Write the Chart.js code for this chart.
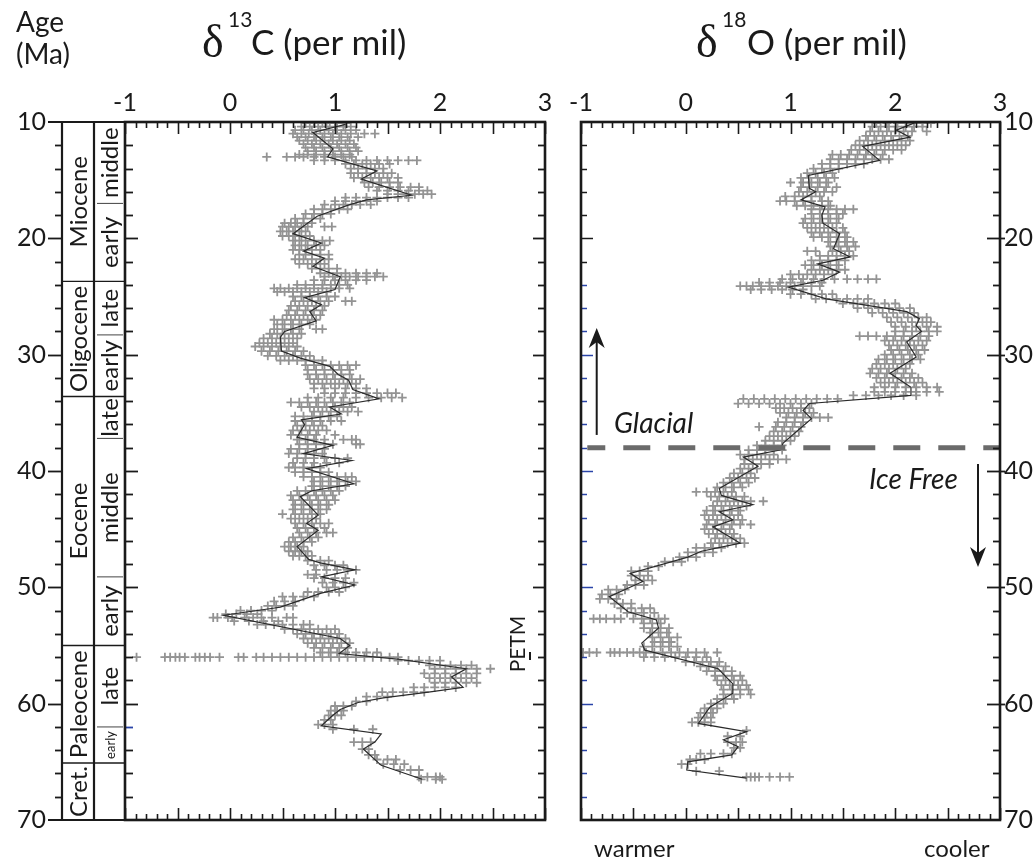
<!DOCTYPE html>
<html>
<head>
<meta charset="utf-8">
<script src="https://cdn.jsdelivr.net/npm/chart.js@4.4.1/dist/chart.umd.min.js"></script>
<style>
  body { margin: 0; background: #fff; width: 1036px; height: 859px; position: relative; overflow: hidden; font-family: Lato, sans-serif; color: #1a1a1a; }
  canvas { position: absolute; top: 0; }
  #cLeft { left: 0; }
  #cRight { left: 560px; }
  .lab { position: absolute; white-space: nowrap; line-height: 1; }
  .delta { font-family: 'Liberation Serif', serif; font-size: 46px; }
  .sup { font-size: 21px; }
  .ttl { font-size: 35px; }
  .ital { font-style: italic; font-size: 28px; }
</style>
</head>
<body>
<canvas id="cLeft" width="560" height="859"></canvas>
<canvas id="cRight" width="476" height="859"></canvas>

<div class="lab" style="left:16px;top:5px;font-size:28px;line-height:32px">Age<br>(Ma)</div>

<div class="lab delta" style="left:202px;top:19px">δ</div>
<div class="lab sup" style="left:228px;top:8px">13</div>
<div class="lab ttl" style="left:251px;top:24px">C (per mil)</div>

<div class="lab delta" style="left:696px;top:19px">δ</div>
<div class="lab sup" style="left:722px;top:8px">18</div>
<div class="lab ttl" style="left:747px;top:24px">O (per mil)</div>

<div class="lab ital" style="left:614px;top:408px">Glacial</div>
<div class="lab ital" style="left:869px;top:464px">Ice Free</div>
<div class="lab" style="left:594px;top:836px;font-size:24px">warmer</div>
<div class="lab" style="left:924px;top:836px;font-size:24px">cooler</div>

<script>
// ---- time scale (Ma) ----
const epochNames = ['Miocene', 'Oligocene', 'Eocene', 'Paleocene', 'Cret.'];
const epochBounds = [10, 23.7, 33.6, 55.0, 65.1, 70];
const subNames = ['middle', 'early', 'late', 'early', 'late', 'middle', 'early', 'late', 'early', ''];
const subBounds = [10, 17.0, 23.7, 28.3, 33.6, 37.2, 49.1, 55.0, 62.0, 65.1, 70];

const xTickLabels = [-1, 0, 1, 2, 3];
const ageTickLabels = [10, 20, 30, 40, 50, 60, 70];
const glacialAge = 38;
const petmAge = 55.9;

// ---- d13C smoothed curve ----
const c13LineAge = [10.2,10.9,12.3,13.0,14.2,14.9,16.3,16.7,17.1,18.1,19.6,20.4,21.1,21.7,22.4,23.3,24.4,25.1,25.7,26.3,27.1,28.0,28.5,29.7,30.3,31.0,31.7,32.2,33.0,33.8,34.5,35.1,35.6,36.0,37.1,37.8,38.5,39.1,39.8,41.1,41.7,42.2,43.8,44.5,45.1,46.5,47.6,47.9,48.5,49.1,49.8,50.5,51.7,51.8,52.4,54.4,55.0,55.7,56.2,57.0,57.7,58.6,59.0,59.5,59.9,60.5,61.0,61.9,62.6,63.3,63.9,65.3,66.5];
const c13LineVal = [1.10,0.79,0.98,0.93,1.40,1.25,1.73,1.30,1.14,0.83,0.60,0.87,0.70,0.90,0.79,1.05,1.00,0.71,0.87,0.76,0.82,0.52,0.48,0.49,0.67,0.95,1.03,1.13,1.17,1.42,0.95,1.06,0.68,0.71,0.64,0.98,0.70,1.16,0.73,1.18,0.78,0.67,0.84,0.73,0.84,0.64,0.75,0.86,1.19,0.87,1.19,0.87,0.48,0.41,-0.06,1.05,1.14,1.04,1.62,2.25,2.11,2.22,1.89,1.46,1.22,1.05,0.98,0.87,1.44,1.38,1.27,1.44,1.83];

// ---- d13C samples: [age, values...] ----
const c13Miocene = [
  [10.1, .72,.80,.88,.95,1.02,1.10],
  [10.4, .68,.76,.84,.92,1.00,1.08,1.15],
  [10.7, .62,.70,.78,.86,.94,1.02,1.10,1.20],
  [11.0, .60,.68,.75,.82,.90,.98,1.06,1.15,1.28,1.38],
  [11.3, .64,.72,.80,.88,.96,1.04,1.12,1.22],
  [11.6, .66,.74,.82,.90,.98,1.06,1.14],
  [11.9, .70,.78,.86,.94,1.02,1.10,1.18],
  [12.2, .72,.80,.88,.96,1.04,1.12,1.20],
  [12.5, .74,.82,.90,.98,1.06,1.14,1.22],
  [12.8, .66,.74,.82,.90,.98,1.06,1.14],
  [13.0, .35,.54,.62,.70,.80,.90,1.00,1.08,1.16],
  [13.3, .80,.90,1.00,1.10,1.20,1.30,1.40,1.50,1.60,1.70,1.78],
  [13.6, 1.10,1.18,1.26,1.34,1.42,1.52],
  [14.0, 1.15,1.22,1.30,1.38,1.46],
  [14.4, 1.15,1.22,1.30,1.38,1.46,1.54],
  [14.8, 1.18,1.26,1.34,1.42,1.50,1.60],
  [15.2, 1.28,1.36,1.44,1.52,1.60],
  [15.6, 1.32,1.42,1.52,1.62,1.72,1.80],
  [15.9, 1.40,1.50,1.60,1.70,1.80,1.88],
  [16.2, 1.50,1.60,1.68,1.76,1.84,1.92],
  [16.5, 1.10,1.20,1.30,1.40,1.50,1.60,1.70],
  [16.8, 1.00,1.10,1.20,1.30,1.40],
  [17.1, .90,1.00,1.08,1.16,1.24,1.34],
  [17.5, .80,.88,.96,1.04,1.12],
  [17.9, .72,.80,.88,.96],
  [18.3, .62,.70,.78,.86],
  [18.7, .52,.58,.64,.70,.78],
  [19.0, .50,.56,.62,.68,.74,.90,.97],
  [19.4, .48,.54,.60,.66,.72],
  [19.8, .50,.56,.62,.68,.76],
  [20.2, .60,.66,.72,.80,.88,.95],
  [20.6, .62,.68,.74,.82,.90],
  [21.0, .60,.66,.72,.78,.86],
  [21.4, .66,.72,.78,.86,.94],
  [21.8, .62,.70,.78,.86,.94],
  [22.2, .66,.74,.82,.90],
  [22.6, .78,.86,.94,1.02],
  [23.0, .86,.94,1.02,1.10,1.20,1.30,1.40],
  [23.3, .90,.98,1.06,1.14,1.22,1.30,1.38,1.46],
  [23.6, .80,.90,1.00,1.10,1.20,1.30]
];
const c13Oligocene = [
  [24.0, .64,.72,.80,.88,.96,1.04,1.12],
  [24.3, .42,.48,.56,.64,.72,.80,.88,.96,1.04,1.14],
  [24.6, .45,.52,.60,.68,.76,.84,.92],
  [25.0, .60,.68,.76,.84,.92,1.00],
  [25.4, .62,.70,.78,.86,.94,1.10,1.16],
  [25.8, .58,.66,.74,.82,.90],
  [26.2, .56,.64,.72,.80,.88],
  [26.6, .54,.62,.70,.78,.86],
  [27.0, .42,.50,.58,.66,.74,.82],
  [27.4, .45,.52,.60,.68,.76],
  [27.8, .42,.50,.58,.66,.82,.88],
  [28.2, .38,.45,.52,.60,.68],
  [28.6, .32,.40,.48,.56,.64],
  [29.0, .28,.36,.44,.52,.60],
  [29.3, .24,.32,.40,.48,.56,.64],
  [29.7, .30,.38,.46,.54,.62,.70],
  [30.1, .36,.44,.52,.60,.68,.76],
  [30.5, .48,.56,.64,.72,.80,.88],
  [30.9, .72,.80,.88,.96,1.04,1.12,1.20],
  [31.3, .74,.82,.90,.98,1.06,1.14],
  [31.7, .74,.82,.90,.98,1.06,1.14],
  [32.1, .76,.84,.92,1.00,1.08,1.16,1.24],
  [32.5, .80,.88,.96,1.04,1.12,1.20],
  [32.9, .80,.90,1.00,1.10,1.20,1.30],
  [33.3, .90,1.00,1.10,1.20,1.30,1.40,1.50,1.58],
  [33.7, .74,.84,.96,1.08,1.20,1.32,1.44,1.54,1.64]
];
const c13Eocene = [
  [34.1, .58,.66,.74,.82,.90,.98,1.06,1.14],
  [34.5, .68,.76,.84,.92,1.00,1.08,1.16],
  [34.9, .80,.88,.96,1.04,1.12,1.22],
  [35.3, .62,.70,.78,.86,.94,1.02],
  [35.7, .62,.70,.78,.86,.96,1.06],
  [36.1, .64,.72,.80,.88],
  [36.5, .60,.68,.76,.84,.92],
  [36.9, .58,.66,.74,.82,1.00],
  [37.3, .64,.72,.80,.90,1.08,1.16,1.20],
  [37.7, .66,.74,.82,.90,.98,1.20,1.24],
  [38.1, .58,.66,.74,.82,.90],
  [38.5, .56,.64,.72,.80,.88],
  [38.9, .64,.72,.80,.90,1.00,1.12],
  [39.3, .60,.70,.80,.92,1.04],
  [39.7, .56,.62,.70,.78,.86],
  [40.1, .62,.70,.78,.86,.94],
  [40.5, .70,.78,.86,.94,1.02,1.10,1.16],
  [40.9, .80,.88,.96,1.04,1.12,1.20],
  [41.3, .78,.86,.94,1.02,1.10],
  [41.7, .64,.72,.80,.88,.96,1.04],
  [42.1, .58,.66,.74,.82,.90,.98],
  [42.5, .60,.68,.76,.84,.92,1.00],
  [42.9, .62,.70,.78,.86,.94],
  [43.3, .60,.68,.76,.84,.92],
  [43.7, .50,.62,.70,.78,.86],
  [44.1, .58,.66,.74,.82],
  [44.5, .62,.70,.78,.86,.94],
  [44.9, .64,.72,.80,.90],
  [45.3, .66,.74,.82,.92,.98],
  [45.7, .60,.68,.76,.84],
  [46.1, .56,.62,.70,.78],
  [46.5, .52,.58,.64,.70],
  [46.9, .56,.62,.68,.74],
  [47.3, .60,.66,.72,.78],
  [47.7, .74,.86,.94],
  [48.1, .80,.90,1.00,1.08],
  [48.5, .82,.92,1.02,1.12,1.20],
  [48.9, .74,.82],
  [49.2, .80,.90,1.00,1.10],
  [49.6, .88,.98,1.08,1.18],
  [50.0, .92,1.00,1.10],
  [50.4, .74,.84,.94,1.04],
  [50.8, .50,.60,.70,.80],
  [51.2, .42,.52,.62],
  [51.6, .36,.44,.52,.60],
  [52.0, .10,.20,.30,.40],
  [52.3, -.04,.06,.16,.26],
  [52.6, -.16,-.12,-.02,.02,.14,.22,.30,.40,.54,.60],
  [52.9, .04,.18,.32,.46],
  [53.2, .26,.34,.42,.50,.60,.70,.76],
  [53.6, .52,.60,.68,.76,.84,.92,1.00],
  [54.0, .64,.72,.80,.88,.96,1.04],
  [54.4, .70,.78,.86,.94,1.02,1.10],
  [54.8, .74,.82,.90,.98,1.06,1.14]
];
const c13Paleocene = [
  [55.2, .80,.88,.96,1.04,1.12],
  [55.6, .86,.94,1.02,1.10,1.20,1.30,1.40],
  [56.0, -.89,-.62,-.57,-.52,-.48,-.43,-.33,-.29,-.24,-.19,-.10,.08,.13,.25,.32,.40,.48,.56,.64,.72,.80,.88,.96,1.04,1.12,1.20,1.28,1.36,1.44,1.52,1.60],
  [56.3, 1.60,1.70,1.80,1.90,2.00],
  [56.7, 1.90,2.00,2.10,2.20,2.30],
  [57.0, 1.95,2.05,2.15,2.25,2.35,2.48],
  [57.4, 1.85,1.95,2.05,2.15,2.25,2.35],
  [57.8, 1.90,2.00,2.10,2.20,2.30],
  [58.2, 1.95,2.05,2.15,2.25,2.35],
  [58.6, 1.75,1.85,1.95,2.05,2.15],
  [59.0, 1.45,1.55,1.65,1.75,1.85],
  [59.4, 1.30,1.40,1.50],
  [59.8, 1.20,1.30],
  [60.2, 1.00,1.08,1.16],
  [60.6, .96,1.02,1.08],
  [61.0, .94,1.00,1.06],
  [61.4, .90,.96],
  [61.8, .84,.90,.98],
  [62.2, .98,1.18,1.36],
  [63.3, 1.18,1.26,1.34],
  [63.9, 1.26,1.32],
  [64.4, 1.32,1.38],
  [64.8, 1.40,1.50,1.58],
  [65.2, 1.46,1.56,1.66],
  [65.7, 1.62,1.72,1.80],
  [66.3, 1.80,1.88,1.96,2.00],
  [66.5, 1.82,1.96,2.02]
];

// ---- d18O smoothed curve ----
const o18LineAge = [10.05,10.7,11.3,12.1,13.3,14.6,15.7,16.0,16.7,17.3,18.0,18.7,19.6,20.9,21.6,22.2,22.9,23.6,24.2,25.2,26.3,26.9,27.5,28.0,28.9,30.2,31.6,32.8,33.5,34.2,34.8,35.5,37.6,38.2,38.8,39.6,41.5,42.1,42.9,43.5,44.2,44.8,46.2,46.9,47.4,48.8,49.5,50.8,52.1,52.8,53.5,54.8,55.4,57.0,58.3,59.1,60.3,61.7,62.4,63.1,63.7,64.4,65.0,65.7,66.4];
const o18LineVal = [2.19,2.01,2.14,1.69,1.85,1.17,1.18,1.24,1.10,1.33,1.30,1.31,1.47,1.41,1.57,1.26,1.47,1.31,0.98,1.34,2.11,2.23,2.20,2.25,2.11,2.20,1.95,2.15,2.15,1.18,1.12,1.20,0.93,0.90,0.55,0.69,0.32,0.34,0.64,0.32,0.45,0.26,0.52,0.15,0.02,-0.53,-0.41,-0.73,-0.55,-0.28,-0.26,-0.42,-0.39,0.31,0.45,0.45,0.23,0.12,0.58,0.36,0.50,0.44,0.02,0.01,0.58];

// ---- d18O samples: [age, values...] ----
const o18Miocene = [
  [10.1, 1.82,1.92,2.02,2.10,2.18,2.26,2.34],
  [10.4, 1.78,1.86,1.94,2.02,2.10,2.18,2.26],
  [10.8, 1.76,1.84,1.92,2.00,2.08,2.16,2.30],
  [11.2, 1.72,1.80,1.88,1.96,2.04,2.12],
  [11.6, 1.66,1.74,1.82,1.90,1.98,2.06,2.14],
  [12.0, 1.62,1.70,1.78,1.86,1.94,2.02,2.10],
  [12.4, 1.58,1.66,1.74,1.82,1.90,1.98,2.06],
  [12.8, 1.40,1.48,1.56,1.64,1.72,1.80,1.88],
  [13.2, 1.38,1.46,1.54,1.62,1.70,1.78,1.86,1.94],
  [13.6, 1.30,1.38,1.46,1.54,1.62,1.70],
  [14.0, 1.22,1.30,1.38,1.46],
  [14.4, 1.16,1.24,1.32,1.40],
  [14.8, 1.10,1.18,1.26,1.34,1.42],
  [15.2, 1.00,1.12,1.20,1.28,1.36],
  [15.6, 1.10,1.18,1.26,1.34,1.44],
  [16.0, 1.08,1.16,1.24,1.32,1.40],
  [16.4, .95,1.04,1.12,1.20,1.28],
  [16.8, .90,.96,1.04,1.12,1.20,1.30,1.36],
  [17.2, 1.06,1.14,1.22,1.30,1.38],
  [17.5, 1.20,1.28,1.36,1.44,1.52,1.60],
  [17.9, 1.20,1.28,1.36,1.44,1.50],
  [18.3, 1.14,1.22,1.30,1.38,1.46],
  [18.7, 1.12,1.20,1.28,1.36,1.44],
  [19.1, 1.16,1.24,1.32,1.40,1.50],
  [19.5, 1.20,1.28,1.36,1.44,1.52],
  [19.9, 1.22,1.30,1.38,1.46,1.54],
  [20.3, 1.36,1.44,1.52,1.60],
  [20.7, 1.38,1.46,1.54,1.62],
  [21.1, 1.16,1.24,1.40,1.48,1.56],
  [21.5, 1.28,1.36,1.44,1.52,1.60],
  [21.9, 1.20,1.28,1.36,1.44,1.52],
  [22.3, 1.14,1.22,1.30,1.38,1.46],
  [22.7, 1.20,1.28,1.36,1.44,1.52],
  [23.1, 1.00,1.08,1.16,1.24,1.32,1.40],
  [23.5, .92,1.02,1.12,1.22,1.32,1.42,1.54,1.64,1.74,1.82]
];
const o18Oligocene = [
  [23.8, .70,.80,.90,1.00,1.10,1.20,1.30],
  [24.1, .52,.58,.64,.72,.80,.88,.96,1.04,1.12,1.20,1.28],
  [24.4, .62,.72,.82,.92,1.02,1.12],
  [24.8, 1.00,1.10,1.20,1.30,1.40],
  [25.2, 1.24,1.34,1.44,1.54,1.64,1.74],
  [25.6, 1.50,1.60,1.70,1.80,1.90,2.00],
  [26.0, 1.64,1.74,1.84,1.94,2.04,2.14],
  [26.4, 1.78,1.88,1.98,2.08,2.18],
  [26.8, 1.92,2.02,2.12,2.22,2.30],
  [27.2, 1.96,2.06,2.16,2.26,2.34],
  [27.6, 2.00,2.10,2.20,2.30,2.40],
  [28.0, 2.00,2.08,2.16,2.24,2.32,2.40],
  [28.4, 1.66,1.74,1.82,1.92,2.00,2.08,2.16,2.24,2.32],
  [28.8, 1.90,1.98,2.06,2.14,2.22,2.30],
  [29.2, 1.94,2.02,2.10,2.18,2.26],
  [29.6, 1.96,2.04,2.12,2.20,2.28],
  [30.0, 1.90,1.98,2.06,2.14,2.22],
  [30.4, 1.84,1.92,2.00,2.08,2.16,2.24],
  [30.8, 1.82,1.90,1.98,2.06,2.14],
  [31.2, 1.78,1.86,1.94,2.02,2.10],
  [31.6, 1.76,1.84,1.92,2.00,2.08,2.16],
  [32.0, 1.82,1.90,1.98,2.06,2.14,2.22],
  [32.4, 1.86,1.94,2.02,2.10,2.18,2.26],
  [32.8, 1.80,1.90,2.00,2.10,2.20,2.30,2.40],
  [33.2, 1.80,1.90,2.00,2.10,2.20,2.30,2.42],
  [33.5, 1.60,1.72,1.84,1.96,2.08,2.20]
];
const o18Eocene = [
  [33.8, .55,.65,.75,.85,.95,1.05,1.15,1.25,1.35,1.45],
  [34.2, .50,.60,.70,.80,.90,1.00,1.10,1.20],
  [34.6, .86,.94,1.02,1.10,1.18],
  [35.0, .90,.98,1.06,1.14,1.22],
  [35.4, .96,1.04,1.12,1.20,1.28,1.36],
  [35.8, .88,.96,1.04,1.12],
  [36.2, .70,.86,.94,1.02,1.10],
  [36.6, .84,.92,1.00,1.08],
  [37.0, .80,.88,.96,1.04],
  [37.4, .76,.84,.92,1.00],
  [37.8, .68,.76,.84,.92],
  [38.2, .60,.68,.76,.84,.92],
  [38.6, .52,.60,.68,.76,.84],
  [39.0, .56,.64,.72,.80,.88,.96],
  [39.4, .56,.64,.72,.80],
  [39.8, .52,.60,.68],
  [40.2, .46,.54,.62],
  [40.6, .42,.50,.58,.66],
  [41.0, .36,.44,.52,.60],
  [41.4, .30,.38,.46,.54],
  [41.8, .10,.20,.28,.36,.44],
  [42.2, .24,.32,.40,.48,.56],
  [42.6, .30,.38,.46,.54,.62,.74],
  [43.0, .26,.34,.42,.50,.58],
  [43.4, .20,.28,.36,.44,.52],
  [43.8, .18,.26,.34,.42,.50],
  [44.2, .22,.30,.38,.46,.54],
  [44.6, .20,.28,.36,.44,.52,.62],
  [45.0, .18,.26,.34,.42],
  [45.4, .22,.30,.38,.46],
  [45.8, .28,.36,.44,.52],
  [46.2, .24,.32,.40,.48,.56],
  [46.6, .10,.18,.26,.34],
  [47.0, .02,.10,.18,.26],
  [47.4, -.06,.02,.10],
  [47.8, -.20,-.12,-.04],
  [48.2, -.36,-.26],
  [48.6, -.52,-.44,-.36],
  [49.0, -.52,-.44,-.36],
  [49.4, -.48,-.40,-.32],
  [49.8, -.56,-.48,-.40],
  [50.2, -.74,-.66,-.58],
  [50.6, -.80,-.72,-.64],
  [51.0, -.82,-.74,-.66],
  [51.4, -.68,-.60,-.52],
  [51.8, -.62,-.52,-.42,-.34],
  [52.2, -.56,-.48,-.40,-.30],
  [52.7, -.88,-.82,-.76,-.68,-.62,-.50,-.42,-.34,-.26,-.20],
  [53.1, -.40,-.32,-.24],
  [53.5, -.40,-.32,-.24,-.16],
  [53.9, -.34,-.26,-.18],
  [54.3, -.32,-.24,-.16,-.08],
  [54.7, -.30,-.22,-.14]
];
const o18Paleocene = [
  [55.1, -.40,-.32,-.24,-.16,-.08],
  [55.6, -.98,-.92,-.85,-.72,-.68,-.63,-.56,-.50,-.44,-.38,-.30,-.22,-.14,-.06,.02,.10,.18,.30],
  [56.0, -.40,-.30,-.20,-.10,.00,.10,.20],
  [56.4, .00,.08,.16,.24,.32],
  [56.8, .14,.22,.30,.38],
  [57.2, .20,.28,.36,.44],
  [57.6, .28,.36,.44,.52],
  [58.0, .30,.38,.46,.54],
  [58.4, .34,.42,.50,.58],
  [58.8, .36,.44,.52,.60],
  [59.2, .36,.44,.52,.62],
  [59.6, .30,.38,.46],
  [60.0, .24,.30,.36],
  [60.4, .18,.24,.30],
  [60.8, .14,.20,.26],
  [61.2, .12,.18,.24],
  [61.6, .06,.12,.18,.24],
  [62.3, .58],
  [62.8, .40,.52],
  [63.3, .40,.48,.54],
  [63.8, .46,.52],
  [64.3, .14,.24,.36,.44],
  [64.8, .04,.10,.18],
  [65.2, -.04,.02],
  [65.8, .10,.32],
  [66.3, .58,.62,.66,.70,.80,.90,.99]
];

// ---------------------------------------------------------------
const INK = '#1a1a1a';
const GRAY = '#939393';

function rowsToPoints(...groups) {
  const pts = [];
  groups.forEach(rows => rows.forEach(r => {
    for (let i = 1; i < r.length; i++) pts.push({ x: r[i], y: r[0] });
  }));
  return pts;
}

function curve(ages, vals) {
  return ages.map((a, i) => ({ x: vals[i], y: a }));
}

function seg(ctx, x1, y1, x2, y2) {
  ctx.beginPath();
  ctx.moveTo(x1, y1);
  ctx.lineTo(x2, y2);
  ctx.stroke();
}

function arrow(ctx, x, yTail, yTip) {
  const dir = yTip < yTail ? 1 : -1; // 1 = points up
  ctx.lineWidth = 2;
  seg(ctx, x, yTail, x, yTip + dir * 12);
  ctx.beginPath();
  ctx.moveTo(x, yTip);
  ctx.lineTo(x - 8, yTip + dir * 20);
  ctx.lineTo(x, yTip + dir * 14);
  ctx.lineTo(x + 8, yTip + dir * 20);
  ctx.closePath();
  ctx.fill();
}

function rotText(ctx, text, x, y, font) {
  ctx.save();
  ctx.translate(x, y);
  ctx.rotate(-Math.PI / 2);
  ctx.font = font;
  ctx.textAlign = 'center';
  ctx.textBaseline = 'middle';
  ctx.fillText(text, 0, 0);
  ctx.restore();
}

// frame, inward ticks, time scale and arrows
const decor = {
  id: 'decor',
  afterDatasetsDraw(chart, args, opt) {
    const { ctx, chartArea: a, scales: { x, y } } = chart;
    ctx.save();
    ctx.strokeStyle = INK;
    ctx.fillStyle = INK;

    // minor ticks on top and bottom axes
    ctx.lineWidth = 1.6;
    for (let i = -10; i <= 30; i++) {
      const px = Math.round(x.getPixelForValue(i / 10)) + 0.5;
      const len = i % 5 === 0 ? 12 : 6;
      seg(ctx, px, a.top, px, a.top + len);
      seg(ctx, px, a.bottom, px, a.bottom - len);
    }

    // age ticks on the panel sides
    for (let age = 12; age <= 68; age += 2) {
      const py = Math.round(y.getPixelForValue(age)) + 0.5;
      const major = age % 10 === 0;
      if (opt.side === 'left') {
        ctx.lineWidth = 1.8;
        ctx.strokeStyle = age === 62 ? '#2a44a8' : INK;
        seg(ctx, a.left, py, a.left + (major ? 13 : 8), py);
        ctx.strokeStyle = INK;
        seg(ctx, a.right, py, a.right - (major ? 12 : 7), py);
        seg(ctx, 62, py, 62 - (major ? 14 : 7), py);
      } else {
        ctx.lineWidth = 1.5;
        ctx.strokeStyle = age >= 24 ? '#2a44a8' : INK;
        seg(ctx, a.left, py, a.left + (major ? 12 : 6), py);
        ctx.lineWidth = 1.8;
        ctx.strokeStyle = INK;
        if (major) seg(ctx, a.right + 5, py, a.right - 13, py);
        else seg(ctx, a.right, py, a.right - 7, py);
      }
    }

    // frame
    ctx.lineWidth = 2.6;
    ctx.strokeStyle = INK;
    ctx.strokeRect(a.left, a.top, a.right - a.left, a.bottom - a.top);

    if (opt.side === 'left') {
      const colA = 62, colB = 94, colC = a.left;
      const top = y.getPixelForValue(10), bot = y.getPixelForValue(70);
      ctx.lineWidth = 2.2;
      seg(ctx, colA, top, colA, bot);
      seg(ctx, colB, top, colB, bot);
      seg(ctx, 48, top, colC, top);
      seg(ctx, 48, bot, colC, bot);
      // epoch boundaries
      ctx.lineWidth = 1.4;
      for (let i = 1; i < epochBounds.length - 1; i++) {
        const py = y.getPixelForValue(epochBounds[i]);
        seg(ctx, colA, py, colC, py);
      }
      ctx.strokeStyle = '#555';
      ctx.lineWidth = 1.1;
      for (let i = 1; i < subBounds.length - 1; i++) {
        if (epochBounds.includes(subBounds[i])) continue;
        const py = y.getPixelForValue(subBounds[i]);
        seg(ctx, colB + 3, py, colC - 2, py);
      }
      ctx.fillStyle = INK;
      epochNames.forEach((n, i) => {
        const mid = y.getPixelForValue((epochBounds[i] + epochBounds[i + 1]) / 2);
        rotText(ctx, n, (colA + colB) / 2 + 1, mid, '24px Lato');
      });
      subNames.forEach((n, i) => {
        if (!n) return;
        const mid = y.getPixelForValue((subBounds[i] + subBounds[i + 1]) / 2);
        const small = subBounds[i + 1] - subBounds[i] < 3.5;
        rotText(ctx, n, (colB + colC) / 2 + 1, mid, small ? '13px Lato' : '24px Lato');
      });
      // PETM marker
      const pp = y.getPixelForValue(petmAge);
      rotText(ctx, 'PETM', 518, pp - 12, '21px Lato');
      ctx.strokeStyle = INK;
      ctx.lineWidth = 2;
      seg(ctx, 530, pp - 4, 530, pp + 4);
    } else {
      ctx.fillStyle = INK;
      ctx.strokeStyle = INK;
      arrow(ctx, x.getPixelForValue(-0.85), y.getPixelForValue(36.9), y.getPixelForValue(27.7));
      arrow(ctx, x.getPixelForValue(2.79), y.getPixelForValue(39.4), y.getPixelForValue(48.25));
    }
    ctx.restore();
  }
};

function makeOptions(side) {
  const left = side === 'left';
  return {
    responsive: false,
    animation: false,
    devicePixelRatio: 1,
    events: [],
    layout: { padding: left ? { left: 0, right: 15, top: 0, bottom: 39 } : { left: 21, right: 0, top: 0, bottom: 39 } },
    plugins: { legend: { display: false }, tooltip: { enabled: false }, decor: { side } },
    scales: {
      x: {
        type: 'linear', position: 'top', min: -1, max: 3,
        grid: { display: false, drawTicks: false },
        border: { display: false },
        afterFit: s => { s.height = 122; },
        afterBuildTicks: s => { s.ticks = xTickLabels.map(v => ({ value: v })); },
        ticks: { padding: 4, maxRotation: 0, color: INK, font: { family: 'Lato', size: 25 } }
      },
      y: {
        type: 'linear', position: left ? 'left' : 'right', min: 10, max: 70, reverse: true,
        // long invisible tick marks push the labels out to the far-left age column
        grid: { display: false, drawTicks: true, tickLength: left ? 77 : 0 },
        border: { display: false },
        afterFit: s => { s.width = left ? 125 : 36; },
        afterBuildTicks: s => { s.ticks = ageTickLabels.map(v => ({ value: v })); },
        ticks: { padding: left ? 2 : 4, color: INK, font: { family: 'Lato', size: 25 } }
      }
    }
  };
}

function samples(data) {
  return {
    data, order: 2, showLine: false,
    pointStyle: 'cross', pointRadius: 4.5, pointBorderWidth: 1.8,
    pointBorderColor: GRAY, pointBackgroundColor: GRAY
  };
}

function smooth(data) {
  return { data, order: 1, showLine: true, borderColor: '#2a2a2a', borderWidth: 1.2, pointRadius: 0, tension: 0 };
}

new Chart(document.getElementById('cLeft'), {
  type: 'scatter',
  data: {
    datasets: [
      samples(rowsToPoints(c13Miocene, c13Oligocene, c13Eocene, c13Paleocene)),
      smooth(curve(c13LineAge, c13LineVal))
    ]
  },
  options: makeOptions('left'),
  plugins: [decor]
});

new Chart(document.getElementById('cRight'), {
  type: 'scatter',
  data: {
    datasets: [
      samples(rowsToPoints(o18Miocene, o18Oligocene, o18Eocene, o18Paleocene)),
      smooth(curve(o18LineAge, o18LineVal)),
      {
        data: [{ x: -0.94, y: glacialAge }, { x: 3, y: glacialAge }],
        order: 0, showLine: true, borderColor: '#6b6b6b', borderWidth: 5,
        borderDash: [27, 18], borderDashOffset: 9, pointRadius: 0
      }
    ]
  },
  options: makeOptions('right'),
  plugins: [decor]
});
</script>
</body>
</html>
